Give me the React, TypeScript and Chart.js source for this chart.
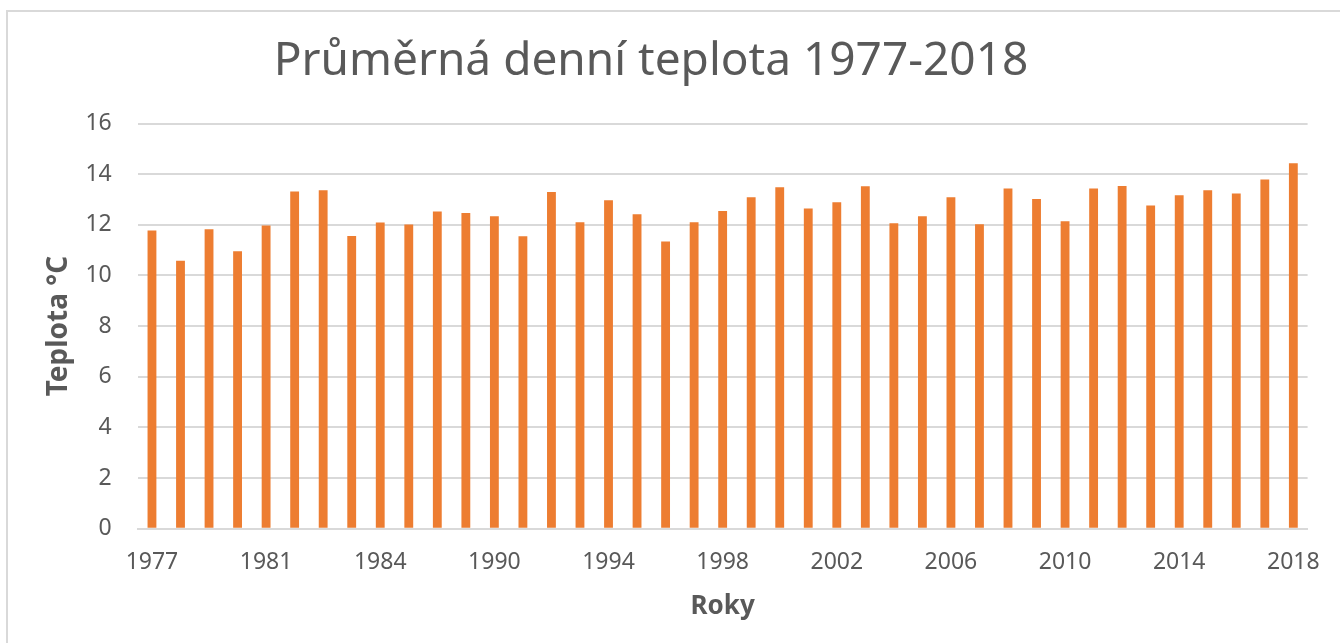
import React, { useEffect, useRef } from "react";
import { Chart, registerables } from "chart.js";

Chart.register(...registerables);

const TITLE = "Průměrná denní teplota 1977-2018";
const X_TITLE = "Roky";
const Y_TITLE = "Teplota °C";

const years: string[] = [
  "1977", "1978", "1979", "1980", "1981", "1982", "1983", "1983", "1984", "1985",
  "1986", "1989", "1990", "1991", "1992", "1993", "1994", "1995", "1996", "1997",
  "1998", "1999", "2000", "2001", "2002", "2003", "2004", "2005", "2006", "2007",
  "2008", "2009", "2010", "2011", "2012", "2013", "2014", "2015", "2016", "2017",
  "2018",
];

const temperatures: number[] = [
  11.77, 10.58, 11.82, 10.96, 11.97, 13.31, 13.36, 11.56, 12.09, 12.01,
  12.53, 12.47, 12.34, 11.55, 13.3, 12.1, 12.97, 12.42, 11.34, 12.1,
  12.54, 13.09, 13.48, 12.64, 12.89, 13.52, 12.06, 12.34, 13.09, 12.02,
  13.43, 13.02, 12.14, 13.43, 13.53, 12.76, 13.17, 13.36, 13.24, 13.79,
  14.43,
];

const yTicks = { min: 0, max: 16, step: 2 };
const labelEvery = 4;

const TEXT = "#595959";
const GRID = "#D9D9D9";
const BAR = "#ED7D31";
const FONT = "'Noto Sans', 'Open Sans', sans-serif";

const framePlugin = {
  id: "frameAndTitle",
  beforeDraw(chart: any) {
    const ctx = chart.ctx;
    ctx.save();
    ctx.fillStyle = "#ffffff";
    ctx.fillRect(0, 0, chart.width, chart.height);
    ctx.strokeStyle = GRID;
    ctx.lineWidth = 2;
    ctx.beginPath();
    ctx.moveTo(7, chart.height);
    ctx.lineTo(7, 11);
    ctx.lineTo(chart.width, 11);
    ctx.stroke();
    ctx.restore();
  },
  afterDraw(chart: any) {
    const ctx = chart.ctx;
    ctx.save();
    ctx.fillStyle = TEXT;
    ctx.font = `46px ${FONT}`;
    ctx.textAlign = "center";
    ctx.textBaseline = "alphabetic";
    ctx.fillText(TITLE, 651, 75);
    ctx.restore();
  },
};

export default function App() {
  const ref = useRef<HTMLCanvasElement | null>(null);

  useEffect(() => {
    if (!ref.current) return;
    const chart = new Chart(ref.current, {
      type: "bar",
      data: {
        labels: years,
        datasets: [
          {
            label: Y_TITLE,
            data: temperatures,
            backgroundColor: BAR,
            borderWidth: 0,
            categoryPercentage: 1,
            barPercentage: 0.31,
          },
        ],
      },
      options: {
        responsive: false,
        animation: false,
        layout: { padding: { left: 0, right: 28, top: 123.5, bottom: 0 } },
        plugins: {
          legend: { display: false },
          title: { display: false },
          tooltip: { enabled: false },
        },
        scales: {
          x: {
            grid: { display: false, drawTicks: false },
            border: { display: true, color: GRID, width: 2 },
            ticks: {
              autoSkip: false,
              maxRotation: 0,
              minRotation: 0,
              padding: 20,
              color: TEXT,
              font: { family: FONT, size: 23 },
              callback: (_v: any, i: number) => (i % labelEvery === 0 ? years[i] : ""),
            },
            title: {
              display: true,
              text: X_TITLE,
              color: TEXT,
              font: { family: FONT, size: 26, weight: "bold" },
              padding: { top: 0, bottom: 21 },
            },
            afterFit: (scale: any) => {
              scale.height = 114.3;
            },
          },
          y: {
            min: yTicks.min,
            max: yTicks.max,
            grid: { color: GRID, lineWidth: 2, drawTicks: false },
            border: { display: false },
            ticks: {
              stepSize: yTicks.step,
              padding: 26,
              color: TEXT,
              font: { family: FONT, size: 23 },
            },
            title: {
              display: true,
              text: Y_TITLE,
              color: TEXT,
              font: { family: FONT, size: 28, weight: "bold" },
              padding: { top: 42, bottom: 0 },
            },
            afterFit: (scale: any) => {
              scale.width = 137.7;
            },
          },
        },
      },
      plugins: [framePlugin],
    });
    return () => chart.destroy();
  }, []);

  return (
    <div style={{ position: "fixed", left: 0, top: 0, width: 1340, height: 643, background: "#fff" }}>
      <canvas ref={ref} width={1340} height={643} style={{ display: "block" }} />
    </div>
  );
}
